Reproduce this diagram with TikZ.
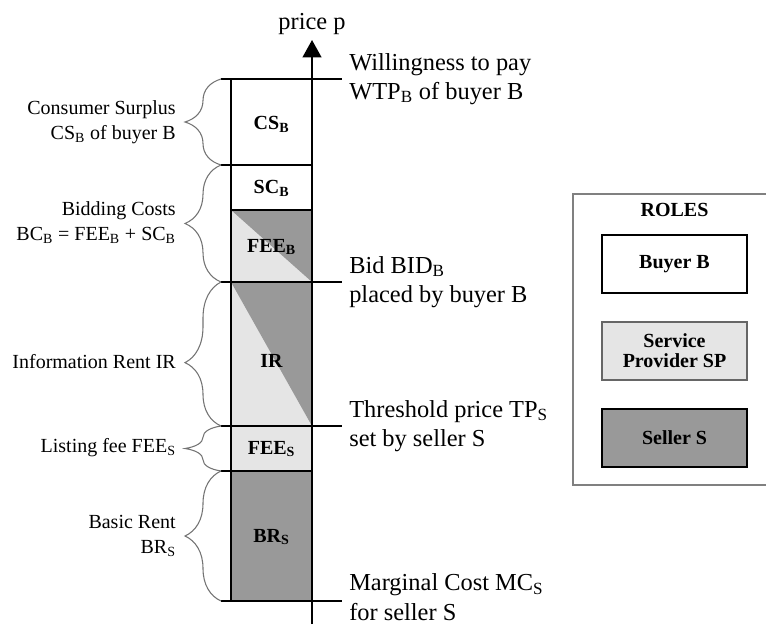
\documentclass[tikz,border=0pt]{standalone}
\usepackage{fontspec}
\setmainfont{Liberation Serif}
\usetikzlibrary{arrows.meta,decorations.pathreplacing}

\definecolor{sellergray}{gray}{0.6}
\definecolor{spgray}{gray}{0.9}

\tikzset{
  brc/.style={draw=black!55, line width=0.8pt, decorate, decoration={brace, amplitude=27pt}},
  lefttxt/.style={anchor=east, align=right, inner sep=0pt, font=\fontsize{15}{18.75}\selectfont},
  righttxt/.style={anchor=west, align=left, inner sep=0pt, font=\fontsize{18.3}{22}\selectfont},
  part/.style={inner sep=0pt, font=\fontsize{15}{15}\selectfont\bfseries},
  rolebox/.style={draw, line width=0.8pt, minimum width=108.75pt, minimum height=43.5pt,
    align=center, font=\fontsize{15}{15}\selectfont\bfseries},
  pricetick/.style={line width=1.5pt}
}

\begin{document}
\begin{tikzpicture}[x=0.75pt,y=-0.75pt]
\useasboundingbox (0,0) rectangle (766,624);

% shaded parts of the price column
\fill[spgray] (231,210) rectangle (312,282);
\fill[sellergray] (231,210) -- (312,210) -- (312,282) -- cycle;
\fill[spgray] (231,282) rectangle (312,426);
\fill[sellergray] (231,282) -- (312,282) -- (312,426) -- cycle;
\fill[spgray] (231,426) rectangle (312,471);
\fill[sellergray] (231,471) rectangle (312,601);

% column borders
\draw[line width=0.8pt] (231,79) -- (231,601);
\draw[line width=0.8pt] (231,210) -- (312,210);
\foreach \y in {79,165,282,426,471,601}
  \draw[line width=0.8pt] (221,\y) -- (312,\y);

% price axis and ticks
\coordinate (wtp) at (312,79);
\coordinate (bid) at (312,282);
\coordinate (tp) at (312,426);
\coordinate (mc) at (312,601);
\draw[pricetick, -{Triangle[width=14pt,length=13pt]}] (312,624) -- (312,40) node[above, inner sep=3pt, font=\fontsize{18.3}{22.5}\selectfont] (price) {price p};
\foreach \c in {wtp,bid,tp,mc}
  \draw[pricetick] (\c) -- ++(30,0);

% parts
\node[part] (cs) at (271.5,124) {CS\textsubscript{B}};
\node[part] (sc) at (271.5,188) {SC\textsubscript{B}};
\node[part] (feeb) at (271.5,247) {FEE\textsubscript{B}};
\node[part] (ir) at (271.5,361) {IR};
\node[part] (fees) at (271.5,449) {FEE\textsubscript{S}};
\node[part] (br) at (271.5,537) {BR\textsubscript{S}};

% braces
\draw[brc] (221,165) -- (221,79);
\draw[brc] (221,282) -- (221,165);
\draw[brc, decoration={aspect=0.44}] (221,426) -- (221,282);
\draw[brc] (221,471) -- (221,426);
\draw[brc] (221,601) -- (221,471);

\node[lefttxt] (cslbl) at (176,122) {Consumer Surplus\\CS\textsubscript{B} of buyer B};
\node[lefttxt] (bclbl) at (176,223) {Bidding Costs\\BC\textsubscript{B} = FEE\textsubscript{B} + SC\textsubscript{B}};
\node[lefttxt] (irlbl) at (176,362) {Information Rent IR};
\node[lefttxt] (feelbl) at (176,448) {Listing fee FEE\textsubscript{S}};
\node[lefttxt] (brlbl) at (176,536) {Basic Rent\\BR\textsubscript{S}};

\node[righttxt] (wtplbl) at (349,79) {Willingness to pay\\WTP\textsubscript{B} of buyer B};
\node[righttxt] (bidlbl) at (349,282) {Bid BID\textsubscript{B}\\placed by buyer B};
\node[righttxt] (tplbl) at (349,426) {Threshold price TP\textsubscript{S}\\set by seller S};
\node[righttxt] (mclbl) at (349,597) {Marginal Cost MC\textsubscript{S}\\for seller S};

% roles
\draw[draw=black!50, line width=1pt] (766,194) -- (573,194) -- (573,485) -- (766,485);
\node[font=\fontsize{15}{15}\selectfont\bfseries] (roles) at (674.5,210) {ROLES};
\node[rolebox, fill=white] (buyer) at (674.5,264) {Buyer B};
\node[rolebox, fill=spgray, draw=black!60] (sp) at (674.5,351) {Service\\Provider SP};
\node[rolebox, fill=sellergray] (seller) at (674.5,438) {Seller S};
\end{tikzpicture}
\end{document}
